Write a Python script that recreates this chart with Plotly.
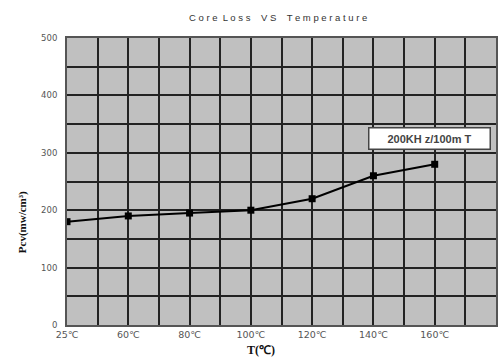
import plotly.graph_objects as go

categories = ["25℃", "60℃", "80℃", "100℃", "120℃", "140℃", "160℃"]
pcv_values = [180, 190, 195, 200, 220, 260, 280]
y_ticks = [0, 100, 200, 300, 400, 500]
series_name = "200KHz/100mT"

x_idx = list(range(len(categories)))
grid_vals = [i * 0.5 for i in range(15)]
grid_text = []
for v in grid_vals:
    if v == int(v) and int(v) < len(categories):
        grid_text.append(categories[int(v)])
    else:
        grid_text.append("")

fig = go.Figure()
fig.add_trace(go.Scatter(
    x=x_idx, y=pcv_values, mode="lines+markers",
    line=dict(color="#000000", width=2),
    marker=dict(symbol="square", size=7, color="#000000"),
    name=series_name, showlegend=False,
))

fig.update_layout(
    width=499, height=362,
    margin=dict(l=67, r=1, t=38, b=37),
    paper_bgcolor="#ffffff",
    plot_bgcolor="#c0c0c0",
    xaxis=dict(
        range=[0, 7], tickmode="array", tickvals=grid_vals, ticktext=grid_text,
        showgrid=True, gridcolor="#222222", gridwidth=1.5,
        showline=True, linecolor="#555555", linewidth=2, mirror=True,
        ticks="", zeroline=False,
        tickfont=dict(family="DejaVu Sans", size=9.5, color="#555555"),
    ),
    yaxis=dict(
        range=[0, 500], tickmode="array",
        tickvals=[i * 50 for i in range(11)],
        ticktext=[str(v) if v in y_ticks else "" for v in [i * 50 for i in range(11)]],
        showgrid=True, gridcolor="#222222", gridwidth=1.5,
        showline=True, linecolor="#555555", linewidth=2, mirror=True,
        ticks="", zeroline=False, ticklabelstandoff=6,
        tickfont=dict(family="DejaVu Sans", size=8.5, color="#555555"),
    ),
    annotations=[
        dict(text="C o r e  L o s s    V S    T e m p e r a t u r e", x=279, y=18,
             showarrow=False,
             font=dict(family="Liberation Sans", size=9.5, color="#333333")),
        dict(text="<b>T(℃)</b>", x=262, y=350,
             showarrow=False, font=dict(family="Liberation Serif", size=12, color="#111111")),
        dict(text="<b>Pcv(mw/cm³)</b>", x=22, y=222, textangle=-90,
             showarrow=False, font=dict(family="Liberation Serif", size=11, color="#111111")),
        dict(text="<b>200KH z/100m T</b>", x=431, y=138,
             showarrow=False, bgcolor="#ffffff", bordercolor="#444444", borderwidth=1.5,
             width=118, height=18,
             font=dict(family="Liberation Sans", size=11, color="#444444")),
    ],
)

# convert pixel-placed annotations to paper coordinates
L, T, W, H = 67, 38, 499 - 67 - 1, 362 - 38 - 37
new_ann = []
for a in fig.layout.annotations:
    px, py = a.x, a.y
    a.update(xref="paper", yref="paper",
             x=(px - L) / W, y=1 - (py - T) / H,
             xanchor="center", yanchor="middle")
    new_ann.append(a)
fig.layout.annotations = new_ann

fig.write_html("out.html")
